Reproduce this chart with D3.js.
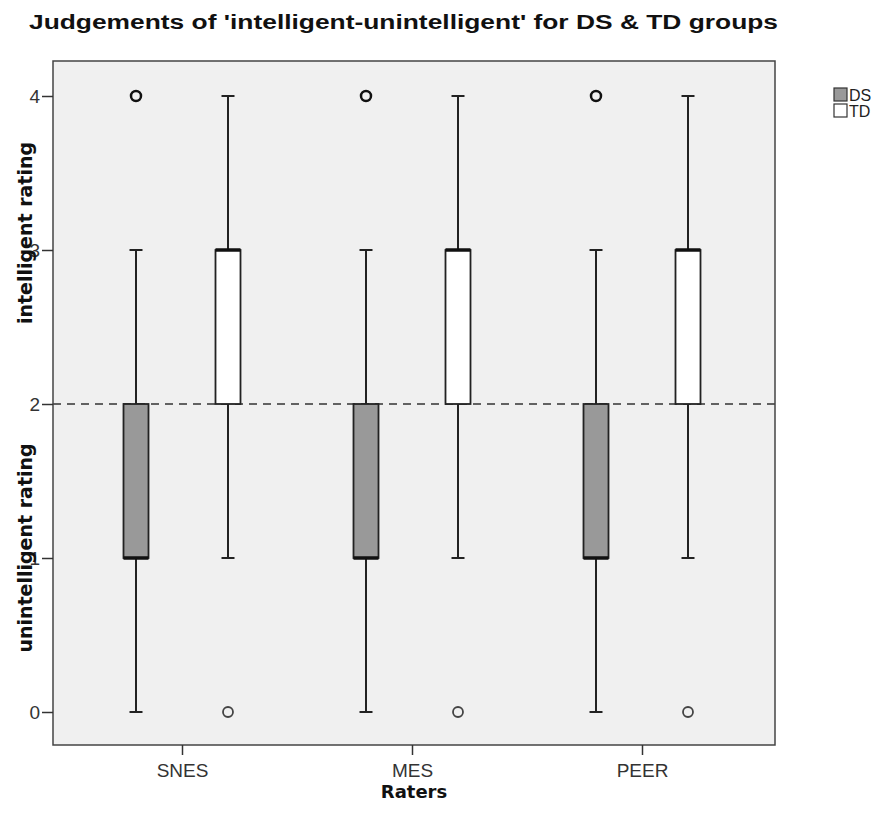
<!DOCTYPE html>
<html>
<head>
<meta charset="utf-8">
<script src="https://cdn.jsdelivr.net/npm/d3@7"></script>
<style>
  body { margin: 0; background: #fff; }
</style>
</head>
<body>
<div id="chart"></div>
<script>
const raters = ["SNES", "MES", "PEER"];
const groups = ["DS", "TD"];
const groupColors = ["#999999", "#ffffff"];
// box stats per rater: [whiskerLow, q1, median, q3, whiskerHigh]
const dsStats = [[0, 1, 1, 2, 3], [0, 1, 1, 2, 3], [0, 1, 1, 2, 3]];
const tdStats = [[1, 2, 3, 3, 4], [1, 2, 3, 3, 4], [1, 2, 3, 3, 4]];
const dsOutliers = [[4], [4], [4]];
const tdOutliers = [[0], [0], [0]];
const yTicks = [0, 1, 2, 3, 4];
const refLine = 2;

const width = 889, height = 827;
const plot = {left: 53, right: 775, top: 61, bottom: 745};
const sansFont = "Liberation Sans, Arial, sans-serif";
const boldFont = "DejaVu Sans, Verdana, sans-serif";

const svg = d3.select("#chart").append("svg")
    .attr("width", width)
    .attr("height", height)
    .attr("font-family", sansFont);

const y = d3.scaleLinear().domain([0, 4]).range([712, 96]);
const x = d3.scalePoint().domain(raters).range([182, 642]);
const xg = d3.scalePoint().domain(groups).range([-46, 46]);

svg.append("rect")
    .attr("x", plot.left).attr("y", plot.top)
    .attr("width", plot.right - plot.left).attr("height", plot.bottom - plot.top)
    .attr("fill", "#f0f0f0");

// reference line
svg.append("line")
    .attr("x1", plot.left).attr("x2", plot.right)
    .attr("y1", y(refLine)).attr("y2", y(refLine))
    .attr("stroke", "#333").attr("stroke-width", 1.5)
    .attr("stroke-dasharray", "8,6");

const boxW = 25, capW = 13;
const series = [dsStats, tdStats];
const outliers = [dsOutliers, tdOutliers];

series.forEach((stats, gi) => {
    const g = svg.append("g");
    stats.forEach((s, ri) => {
        const cx = x(raters[ri]) + xg(groups[gi]);
        const [lo, q1, med, q3, hi] = s;
        // whiskers
        g.append("line").attr("x1", cx).attr("x2", cx)
            .attr("y1", y(hi)).attr("y2", y(q3))
            .attr("stroke", "#222").attr("stroke-width", 2);
        g.append("line").attr("x1", cx).attr("x2", cx)
            .attr("y1", y(q1)).attr("y2", y(lo))
            .attr("stroke", "#222").attr("stroke-width", 2);
        [lo, hi].forEach(v => {
            g.append("line").attr("x1", cx - capW / 2).attr("x2", cx + capW / 2)
                .attr("y1", y(v)).attr("y2", y(v))
                .attr("stroke", "#222").attr("stroke-width", 2);
        });
        g.append("rect")
            .attr("x", cx - boxW / 2).attr("y", y(q3))
            .attr("width", boxW).attr("height", y(q1) - y(q3))
            .attr("fill", groupColors[gi])
            .attr("stroke", "#222").attr("stroke-width", 1.8);
        g.append("line").attr("x1", cx - boxW / 2).attr("x2", cx + boxW / 2)
            .attr("y1", y(med)).attr("y2", y(med))
            .attr("stroke", "#111").attr("stroke-width", 3.5);
        outliers[gi][ri].forEach(v => {
            g.append("circle").attr("cx", cx).attr("cy", y(v)).attr("r", 5)
                .attr("fill", "none").attr("stroke", gi === 0 ? "#111" : "#444")
                .attr("stroke-width", gi === 0 ? 2.5 : 1.8);
        });
    });
});

// frame
svg.append("rect")
    .attr("x", plot.left).attr("y", plot.top)
    .attr("width", plot.right - plot.left).attr("height", plot.bottom - plot.top)
    .attr("fill", "none").attr("stroke", "#444").attr("stroke-width", 1.5);

// axes
const yAxis = svg.append("g")
    .attr("transform", `translate(${plot.left},0)`)
    .call(d3.axisLeft(y).tickValues(yTicks).tickSize(11).tickPadding(2).tickFormat(d3.format("d")));
yAxis.select(".domain").remove();
yAxis.selectAll("line").attr("stroke", "#333").attr("stroke-width", 1.5);
yAxis.selectAll("text").attr("font-size", 19).attr("fill", "#333")
    .attr("font-family", sansFont);

const xAxis = svg.append("g")
    .attr("transform", `translate(0,${plot.bottom})`)
    .call(d3.axisBottom(x).tickSize(10).tickPadding(9));
xAxis.select(".domain").remove();
xAxis.selectAll("line").attr("stroke", "#333").attr("stroke-width", 1.5);
xAxis.selectAll("text").attr("font-size", 19).attr("fill", "#333")
    .attr("font-family", sansFont);

// titles
svg.append("text").attr("x", 29).attr("y", 29)
    .attr("font-size", 20).attr("font-weight", "bold").attr("fill", "#111")
    .attr("textLength", 749).attr("lengthAdjust", "spacingAndGlyphs")
    .text("Judgements of 'intelligent-unintelligent' for DS & TD groups");

svg.append("text").attr("x", plot.left + (plot.right - plot.left) / 2).attr("y", 798)
    .attr("text-anchor", "middle").attr("font-size", 18).attr("font-weight", "bold").attr("fill", "#111")
    .attr("font-family", boldFont)
    .text("Raters");

svg.append("text")
    .attr("transform", "translate(32,233) rotate(-90)")
    .attr("text-anchor", "middle").attr("font-size", 19).attr("font-weight", "bold").attr("fill", "#111")
    .attr("font-family", boldFont)
    .text("intelligent rating");
svg.append("text")
    .attr("transform", "translate(32,548) rotate(-90)")
    .attr("text-anchor", "middle").attr("font-size", 19).attr("font-weight", "bold").attr("fill", "#111")
    .attr("font-family", boldFont)
    .text("unintelligent rating");

// legend
const legend = svg.append("g").attr("transform", "translate(834,88)");
groups.forEach((gname, i) => {
    legend.append("rect").attr("x", 0).attr("y", i * 16)
        .attr("width", 13).attr("height", 13)
        .attr("fill", groupColors[i]).attr("stroke", "#333").attr("stroke-width", 1.2);
    legend.append("text").attr("x", 15).attr("y", i * 16 + 13)
        .attr("font-size", 16).attr("fill", "#222").text(gname);
});
</script>
</body>
</html>
